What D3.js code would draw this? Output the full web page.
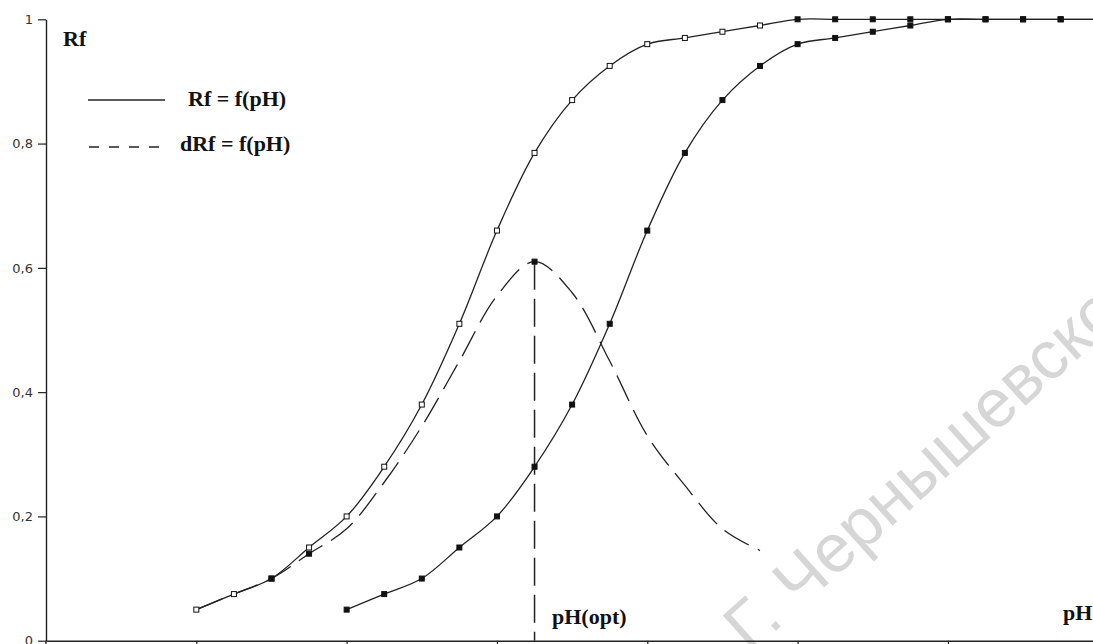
<!DOCTYPE html>
<html><head><meta charset="utf-8">
<script src="https://cdn.jsdelivr.net/npm/d3@7"></script>
<style>body{margin:0;background:#fff;overflow:hidden} svg{display:block}</style>
</head><body><svg id="c" width="1093" height="644"></svg>
<script>
// ---- data (category index along the pH axis) ----
const rfAcidIdx = d3.range(4, 29);
const rfAcid = [0.05,0.075,0.1,0.15,0.2,0.28,0.38,0.51,0.66,0.785,0.87,0.925,0.96,0.97,0.98,0.99,1,1,1,1,1,1,1,1,1];
const rfBaseIdx = d3.range(8, 29);
const rfBase = [0.05,0.075,0.1,0.15,0.2,0.28,0.38,0.51,0.66,0.785,0.87,0.925,0.96,0.97,0.98,0.99,1,1,1,1,1];
const dRfIdx = d3.range(4, 20);
const dRf = [0.05,0.075,0.1,0.14,0.18,0.255,0.345,0.45,0.555,0.61,0.56,0.45,0.33,0.25,0.18,0.145];
const dRfMarked = [6, 7, 13];
const optIdx = 13;
const xTicks = [4, 8, 12, 16, 20, 24];
const yTicks = [0, 0.2, 0.4, 0.6, 0.8, 1];
const yTickLabels = ["0", "0,2", "0,4", "0,6", "0,8", "1"];
const legendLabels = ["Rf = f(pH)", "dRf = f(pH)"];

// ---- scales ----
const svg = d3.select("#c");
const x = d3.scaleLinear().domain([0, 28]).range([46, 46 + 28 * 37.58]);
const y = d3.scaleLinear().domain([0, 1]).range([640.7, 19.3]);
const ink = "#222";

// watermark
svg.append("text")
  .attr("transform", "translate(750,654) rotate(-42)")
  .attr("font-family", "Liberation Sans, Arial, sans-serif")
  .attr("font-size", 68)
  .attr("fill", "#d6d6d6")
  .text("Г. Чернышевского");

// axes
const yAxis = svg.append("g").attr("transform", "translate(46,0)")
  .call(d3.axisLeft(y).tickValues(yTicks).tickFormat((d, i) => yTickLabels[i]).tickSize(8).tickSizeOuter(0).tickPadding(5));
const xAxis = svg.append("g").attr("transform", `translate(0,${y(0)})`)
  .call(d3.axisBottom(x).tickValues(xTicks).tickFormat("").tickSize(5).tickSizeOuter(0));
[yAxis, xAxis].forEach(g => {
  g.select(".domain").attr("stroke", ink).attr("stroke-width", 1.4);
  g.selectAll(".tick line").attr("stroke", ink).attr("stroke-width", 1.2);
  g.selectAll("text").attr("font-family", "DejaVu Sans, sans-serif").attr("font-size", 13).attr("fill", "#333");
});
svg.append("line").attr("x1", 46).attr("x2", 46).attr("y1", y(0)).attr("y2", 644).attr("stroke", ink).attr("stroke-width", 1.4);

const line = d3.line().x(d => x(d[0])).y(d => y(d[1])).curve(d3.curveCatmullRom.alpha(0.5));
const zip = (idx, vals) => idx.map((k, i) => [k, vals[i]]);

// pH(opt) vertical dashed line
svg.append("line")
  .attr("x1", x(optIdx)).attr("x2", x(optIdx))
  .attr("y1", y(dRf[dRfIdx.indexOf(optIdx)])).attr("y2", y(0))
  .attr("stroke", ink).attr("stroke-width", 1.5).attr("stroke-dasharray", "28,9");

// dRf curve
svg.append("path").datum(zip(dRfIdx, dRf)).attr("d", line)
  .attr("fill", "none").attr("stroke", ink).attr("stroke-width", 1.3).attr("stroke-dasharray", "28,10");

// Rf curves
svg.append("path").datum(zip(rfAcidIdx, rfAcid)).attr("d", line)
  .attr("fill", "none").attr("stroke", ink).attr("stroke-width", 1.3);
svg.append("path").datum(zip(rfBaseIdx, rfBase)).attr("d", line)
  .attr("fill", "none").attr("stroke", ink).attr("stroke-width", 1.3);

// markers
function markers(data, filledFn) {
  svg.append("g").selectAll("rect").data(data).join("rect")
    .attr("x", d => x(d[0]) - 2.5).attr("y", d => y(d[1]) - 2.5)
    .attr("width", 5).attr("height", 5)
    .attr("fill", d => filledFn(d) ? "#111" : "#fff")
    .attr("stroke", "#111").attr("stroke-width", 1);
}
markers(zip(rfAcidIdx, rfAcid), d => d[1] >= 1);
markers(zip(dRfIdx, dRf).filter(d => dRfMarked.includes(d[0])), () => true);
markers(zip(rfBaseIdx, rfBase), () => true);

// labels
const serif = "Liberation Serif, Times New Roman, serif";
function label(tx, ty, t) {
  svg.append("text").attr("x", tx).attr("y", ty).attr("font-family", serif)
    .attr("font-weight", "bold").attr("font-size", 22).attr("fill", "#111").text(t);
}
label(63, 46, "Rf");
label(552, 624, "pH(opt)");
label(1063, 620, "pH");

// legend
svg.append("line").attr("x1", 88).attr("x2", 165).attr("y1", 100).attr("y2", 100)
  .attr("stroke", ink).attr("stroke-width", 1.5);
svg.append("line").attr("x1", 89).attr("x2", 166).attr("y1", 147).attr("y2", 147)
  .attr("stroke", ink).attr("stroke-width", 1.5).attr("stroke-dasharray", "10,10");
label(188, 106, legendLabels[0]);
label(180, 151, legendLabels[1]);
</script></body></html>
